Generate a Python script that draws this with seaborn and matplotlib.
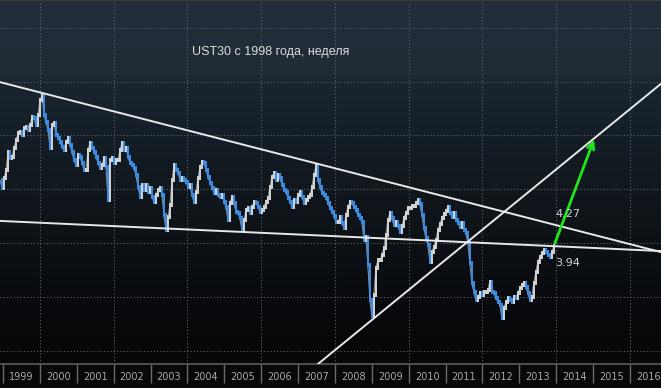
import numpy as np
import seaborn as sns
import matplotlib.pyplot as plt
from matplotlib.colors import LinearSegmentedColormap

start = 1998.92
step = 0.0542
ust30 = [5.17, 5.02, 5.21, 5.36, 5.69, 5.58, 5.60, 5.77, 5.91, 6.04,
         6.06, 6.01, 6.14, 6.16, 6.10, 6.19, 6.34, 6.32, 6.19, 6.38,
         6.66, 6.73, 6.38, 6.25, 6.10, 5.77, 6.19, 6.23, 6.01, 5.95,
         5.88, 5.78, 5.73, 5.88, 5.95, 5.82, 5.69, 5.54, 5.45, 5.64,
         5.60, 5.49, 5.36, 5.36, 5.73, 5.86, 5.77, 5.69, 5.60, 5.49,
         5.39, 5.45, 5.58, 5.41, 4.80, 5.54, 5.58, 5.49, 5.54, 5.54,
         5.73, 5.86, 5.73, 5.77, 5.60, 5.49, 5.45, 5.39, 5.26, 5.04,
         4.86, 5.08, 4.99, 5.08, 4.95, 5.02, 4.86, 4.76, 4.89, 4.99,
         5.02, 4.89, 4.52, 4.24, 4.48, 4.71, 5.17, 5.45, 5.36, 5.30,
         5.17, 5.21, 5.17, 5.13, 5.04, 5.08, 4.89, 4.76, 4.95, 5.21,
         5.41, 5.51, 5.49, 5.36, 5.23, 5.12, 5.02, 4.93, 4.99, 4.89,
         4.86, 4.89, 4.76, 4.67, 4.43, 4.74, 4.86, 4.74, 4.58, 4.56,
         4.46, 4.24, 4.43, 4.61, 4.65, 4.56, 4.67, 4.76, 4.74, 4.67,
         4.58, 4.61, 4.67, 4.76, 4.84, 5.04, 5.23, 5.30, 5.17, 5.26,
         5.21, 5.08, 4.99, 4.95, 4.84, 4.76, 4.67, 4.80, 4.76, 4.89,
         4.95, 4.86, 4.74, 4.80, 4.86, 4.89, 5.04, 5.26, 5.43, 5.17,
         5.04, 4.93, 4.89, 4.84, 4.74, 4.65, 4.58, 4.50, 4.39, 4.39,
         4.48, 4.37, 4.28, 4.52, 4.67, 4.76, 4.74, 4.67, 4.61, 4.52,
         4.46, 4.39, 4.06, 4.11, 3.59, 2.94, 2.64, 3.03, 3.54, 3.68,
         3.68, 3.78, 3.91, 4.15, 4.43, 4.56, 4.46, 4.33, 4.39, 4.32,
         4.20, 4.32, 4.46, 4.56, 4.65, 4.65, 4.69, 4.69, 4.74, 4.80,
         4.72, 4.52, 4.28, 4.09, 3.96, 3.65, 3.83, 3.93, 4.06, 4.24,
         4.35, 4.46, 4.54, 4.59, 4.67, 4.56, 4.48, 4.56, 4.43, 4.37,
         4.30, 4.37, 4.24, 4.19, 4.00, 3.63, 3.26, 3.09, 2.94, 3.00,
         3.07, 3.03, 3.09, 3.09, 3.13, 3.28, 3.09, 3.07, 2.98, 2.90,
         2.85, 2.61, 2.79, 2.90, 2.98, 2.94, 2.90, 3.00, 2.98, 3.07,
         3.16, 3.22, 3.26, 3.18, 3.07, 2.94, 3.00, 3.26, 3.46, 3.65,
         3.74, 3.81, 3.87, 3.83, 3.78, 3.74, 3.83, 3.94]

years = list(range(1999, 2017))

# trend lines drawn on the chart: (years, yields)
upper_t, upper_v = [1998.92, 2016.84], [6.99, 3.83]
flat_t, flat_v = [1998.92, 2016.84], [4.41, 3.85]
rise_t, rise_v = [2007.54, 2016.84], [1.75, 6.96]
target_t, target_v = 2015.05, 5.97
label_hi, label_lo = "4.27", "3.94"

t = start + step * np.arange(len(ust30))
v = np.array(ust30)

sns.set_style("dark")
plt.rcParams['font.family'] = ['DejaVu Sans']

fig = plt.figure(figsize=(6.61, 3.88), dpi=100, facecolor='#070809')
ax = fig.add_axes([0, 24 / 388, 1, 364 / 388])
ax.set_facecolor('#070809')

# background gradient, lighter slate on top, black at the bottom
bg = LinearSegmentedColormap.from_list('bg', [
    (0.0, '#222f3a'), (0.2, '#1f2b35'), (0.22, '#1a252e'), (0.32, '#17212a'),
    (0.5, '#11181e'), (0.7, '#0c1014'), (0.86, '#08090c'), (1.0, '#060708')])
grad = np.linspace(0, 1, 256).reshape(-1, 1)
ax.imshow(grad, cmap=bg, aspect='auto', extent=[0, 1, 0, 1],
          transform=ax.transAxes, zorder=0, interpolation='bilinear')

xlo, xhi = 1998.919, 2016.84
ylo, yhi = 1.75, 8.517

# dotted grid
for y in range(2, 9):
    ax.plot([xlo, xhi], [y, y], ls=(0, (1, 2)), color='#5a646e', lw=0.8, zorder=1)
for x in range(2000, 2017, 2):
    ax.plot([x, x], [ylo, yhi], ls=(0, (1, 2)), color='#5a646e', lw=0.8, zorder=1)

# price bars: falling in blue, rising in light grey
sns.lineplot(x=t, y=v, ax=ax, color='#8a8a8a', lw=0.8, zorder=2)
for i in range(1, len(v)):
    c = '#3a8ee8' if v[i] < v[i - 1] else '#d6d6d6'
    ax.vlines(t[i], min(v[i - 1], v[i]) - 0.04, max(v[i - 1], v[i]) + 0.04,
              color=c, lw=1.4, zorder=3)

# trend lines
for xs, ys in [(upper_t, upper_v), (flat_t, flat_v), (rise_t, rise_v)]:
    ax.plot(xs, ys, color='#e8e8e8', lw=1.4, zorder=4)

ax.annotate('', xy=(target_t, target_v), xytext=(t[-1], v[-1]),
            arrowprops=dict(arrowstyle='->', color='#1ee61e', lw=2,
                            mutation_scale=12), zorder=5)

ax.text(t[-1] + 0.05, 4.54, label_hi, color='#d4d4d4', fontsize=8, va='center', zorder=6)
ax.text(t[-1] + 0.05, 3.63, label_lo, color='#d4d4d4', fontsize=8, va='center', zorder=6)

ax.text(0.41, 0.857, 'UST30 с 1998 года, неделя', transform=ax.transAxes,
        ha='center', va='center', color='#dcdcdc', fontsize=9,
        family=['Liberation Sans', 'DejaVu Sans'], zorder=6)

ax.set_xlim(xlo, xhi)
ax.set_ylim(ylo, yhi)

ax.set_xticks(years)
ax.set_xticklabels([])
ax.set_xticks([y + 0.5 for y in years], minor=True)
ax.set_xticklabels([str(y) for y in years], minor=True)
ax.tick_params(axis='x', which='major', length=14, width=1, color='#6a6a6a',
               direction='out', bottom=True)
ax.tick_params(axis='x', which='minor', length=0, pad=6, labelsize=7,
               labelcolor='#a8a8a8')
ax.set_yticks([])
ax.set_xlabel('')
ax.set_ylabel('')

for s in ['left', 'right']:
    ax.spines[s].set_visible(False)
ax.spines['bottom'].set_color('#5c5c5c')
ax.spines['bottom'].set_linewidth(1.2)
ax.spines['top'].set_color('#3e3c3a')
ax.spines['top'].set_linewidth(1.5)

fig.savefig('out.png', dpi=100, facecolor=fig.get_facecolor())
